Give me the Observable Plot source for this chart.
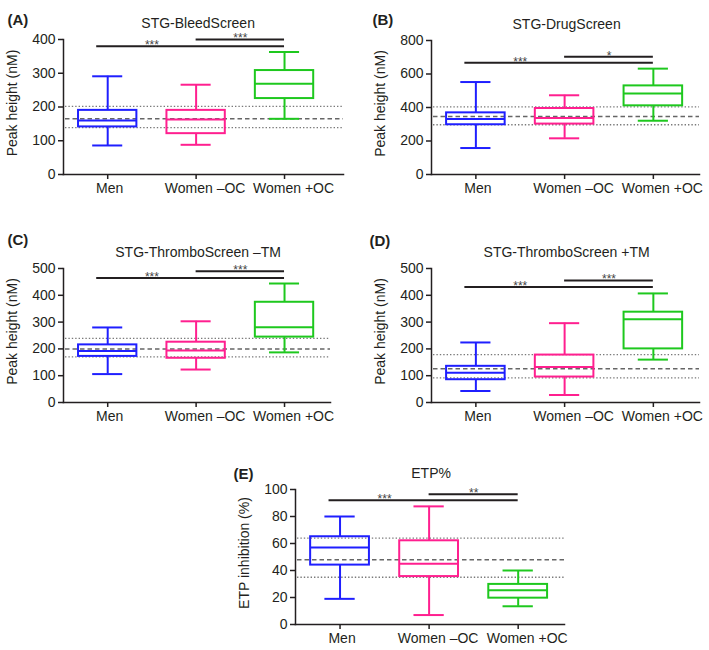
<!DOCTYPE html>
<html>
<head>
<meta charset="utf-8">
<script src="https://cdn.jsdelivr.net/npm/d3@7"></script>
<script src="https://cdn.jsdelivr.net/npm/@observablehq/plot@0.6"></script>
<style>
  body { margin: 0; background: #fff; }
  #chart { position: relative; width: 709px; height: 650px; font-family: "Liberation Sans", Arial, Helvetica, sans-serif; }
  #chart svg { position: absolute; overflow: visible; }
</style>
</head>
<body>
<div id="chart"></div>
<script>
// ---------- data ----------
const groups = ["Men", "Women –OC", "Women +OC"];
const groupColors = ["#1f1fff", "#ff1f8f", "#1ec81e"];

// (A) STG-BleedScreen
const aMin = [86, 88, 165];
const aQ1  = [141, 121, 225];
const aMed = [160, 163, 269];
const aQ3  = [190, 190, 308];
const aMax = [291, 266, 363];
const aRef = [139, 165, 202];      // low dotted, dashed, high dotted
const aSigY = [380, 400];          // long bar, short bar
const aStars = ["***", "***"];
const aTicks = [0, 100, 200, 300, 400];

// (B) STG-DrugScreen
const bMin = [158, 216, 321];
const bQ1  = [297, 301, 410];
const bMed = [331, 337, 483];
const bQ3  = [368, 394, 529];
const bMax = [552, 473, 632];
const bRef = [297, 347, 404];
const bSigY = [667, 703];
const bStars = ["***", "*"];
const bTicks = [0, 200, 400, 600, 800];

// (C) STG-ThromboScreen –TM
const cMin = [106, 123, 187];
const cQ1  = [172, 165, 244];
const cMed = [192, 194, 281];
const cQ3  = [215, 225, 374];
const cMax = [280, 303, 444];
const cRef = [170, 200, 239];
const cSigY = [465, 490];
const cStars = ["***", "***"];
const cTicks = [0, 100, 200, 300, 400, 500];

// (D) STG-ThromboScreen +TM
const dMin = [43, 28, 160];
const dQ1  = [85, 95, 200];
const dMed = [111, 132, 311];
const dQ3  = [135, 177, 337];
const dMax = [224, 296, 407];
const dRef = [92, 126, 179];
const dSigY = [431, 455];
const dStars = ["***", "***"];
const dTicks = [0, 100, 200, 300, 400, 500];

// (E) ETP%
const eMin = [19, 7, 13.5];
const eQ1  = [44, 35.5, 19.5];
const eMed = [57, 45, 25.3];
const eQ3  = [65, 62, 29.7];
const eMax = [80, 87.5, 40];
const eRef = [35, 48, 64];
const eSigY = [92, 96.5];
const eStars = ["***", "**"];
const eTicks = [0, 20, 40, 60, 80, 100];

// ---------- layout / style ----------
const INK = "#231f20";
const BOX = 0.33;   // half box width (in group units)
const CAP = 0.17;   // half cap width

const panels = [
  {tag: "(A)", title: "STG-BleedScreen", ylabel: "Peak height (nM)", min: aMin, q1: aQ1, med: aMed, q3: aQ3, max: aMax, ref: aRef, sigY: aSigY, stars: aStars, ticks: aTicks,
   left: 0, top: 0, width: 354, height: 205, mL: 63, mR: 11, mT: 39, mB: 31, xMax: 2.667, tagDx: -56, tagDy: -25},
  {tag: "(B)", title: "STG-DrugScreen", ylabel: "Peak height (nM)", min: bMin, q1: bQ1, med: bMed, q3: bQ3, max: bMax, ref: bRef, sigY: bSigY, stars: bStars, ticks: bTicks,
   left: 354, top: 0, width: 355, height: 205, mL: 77, mR: 10, mT: 40, mB: 31, xMax: 2.52, tagDx: -59, tagDy: -26},
  {tag: "(C)", title: "STG-ThromboScreen –TM", ylabel: "Peak height (nM)", min: cMin, q1: cQ1, med: cMed, q3: cQ3, max: cMax, ref: cRef, sigY: cSigY, stars: cStars, ticks: cTicks,
   left: 0, top: 200, width: 354, height: 225, mL: 63, mR: 24, mT: 68, mB: 23, xMax: 2.52, tagDx: -56, tagDy: -34},
  {tag: "(D)", title: "STG-ThromboScreen +TM", ylabel: "Peak height (nM)", min: dMin, q1: dQ1, med: dMed, q3: dQ3, max: dMax, ref: dRef, sigY: dSigY, stars: dStars, ticks: dTicks,
   left: 354, top: 200, width: 355, height: 225, mL: 77, mR: 10, mT: 68, mB: 23, xMax: 2.52, tagDx: -62, tagDy: -33},
  {tag: "(E)", title: "ETP%", ylabel: "ETP inhibition (%)", min: eMin, q1: eQ1, med: eMed, q3: eQ3, max: eMax, ref: eRef, sigY: eSigY, stars: eStars, ticks: eTicks,
   left: 170, top: 410, width: 420, height: 240, mL: 125, mR: 26, mT: 79, mB: 26, xMax: 2.52, tagDx: -62, tagDy: -21}
];

function makePanel(p) {
  const rows = groups.map((g, i) => ({
    i, g, color: groupColors[i],
    min: p.min[i], q1: p.q1[i], med: p.med[i], q3: p.q3[i], max: p.max[i]
  }));
  const sig = p.sigY.map((y, k) => ({
    from: k === 0 ? 0 : 1, to: 2, y, label: p.stars[k], mid: k === 0 ? 0.5 : 1.5
  }));
  const yTop = p.ticks[p.ticks.length - 1];
  const line = {stroke: "color", strokeWidth: 2};
  return Plot.plot({
    width: p.width,
    height: p.height,
    marginLeft: p.mL, marginRight: p.mR, marginTop: p.mT, marginBottom: p.mB,
    style: {fontFamily: "'Liberation Sans', Arial, Helvetica, sans-serif", fontSize: "14px", color: INK, background: "transparent", overflow: "visible"},
    x: {type: "linear", domain: [-0.5, p.xMax]},
    y: {domain: [0, yTop]},
    color: {type: "identity"},
    marks: [
      // reference range lines
      Plot.ruleY([p.ref[0], p.ref[2]], {stroke: "#7a7a7a", strokeWidth: 1.3, strokeDasharray: "1.4,2", insetLeft: 2}),
      Plot.ruleY([p.ref[1]], {stroke: "#666", strokeWidth: 1.5, strokeDasharray: "4.5,3", insetLeft: 2}),
      // whiskers
      Plot.ruleX(rows, {x: "i", y1: "min", y2: "q1", ...line}),
      Plot.ruleX(rows, {x: "i", y1: "q3", y2: "max", ...line}),
      Plot.ruleY(rows, {y: "min", x1: d => d.i - CAP, x2: d => d.i + CAP, ...line}),
      Plot.ruleY(rows, {y: "max", x1: d => d.i - CAP, x2: d => d.i + CAP, ...line}),
      // boxes and medians
      Plot.rect(rows, {x1: d => d.i - BOX, x2: d => d.i + BOX, y1: "q1", y2: "q3", fill: "none", ...line}),
      Plot.ruleY(rows, {y: "med", x1: d => d.i - BOX, x2: d => d.i + BOX, ...line}),
      // significance bars
      Plot.ruleY(sig.filter(s => s.from === 0), {y: "y", x1: "from", x2: "to", stroke: INK, strokeWidth: 2, insetLeft: -11}),
      Plot.ruleY(sig.filter(s => s.from !== 0), {y: "y", x1: "from", x2: "to", stroke: INK, strokeWidth: 2}),
      Plot.text(sig, {x: "mid", y: "y", text: "label", fontSize: 12, fill: "#444", dy: -1}),
      // axes
      Plot.frame({anchor: "left", stroke: INK, strokeWidth: 1.5}),
      Plot.frame({anchor: "bottom", stroke: INK, strokeWidth: 1.5}),
      Plot.axisY({ticks: p.ticks, tickSize: 5, tickPadding: 3, label: null, fontSize: 14, strokeWidth: 1.5}),
      Plot.axisX({ticks: [0, 1, 2], tickSize: 5, tickFormat: () => "", label: null, strokeWidth: 1.5}),
      Plot.text(rows.filter(r => r.i === 0), {x: "i", text: "g", frameAnchor: "bottom", dy: 18, dx: 2, fontSize: 14, fill: INK}),
      Plot.text(rows.filter(r => r.i > 0), {x: "i", text: "g", frameAnchor: "bottom", dy: 18, dx: 9, fontSize: 14, fill: INK}),
      // y label
      Plot.text([p.ylabel], {frameAnchor: "left", textAnchor: "middle", rotate: -90, dx: -51, dy: -4, fontSize: 14, fill: INK}),
      // title (centred over the middle group)
      Plot.text([{i: 1, t: p.title}], {x: "i", text: "t", frameAnchor: "top", dy: -21, dx: 2, fontSize: 14, fill: INK}),
      // panel tag
      Plot.text([p.tag], {frameAnchor: "top-left", dx: p.tagDx, dy: p.tagDy, textAnchor: "start", fontWeight: "bold", fontSize: 15, fill: INK})
    ]
  });
}

const chart = document.getElementById("chart");
for (const p of panels) {
  const svg = makePanel(p);
  svg.style.left = p.left + "px";
  svg.style.top = p.top + "px";
  chart.appendChild(svg);
}
</script>
</body>
</html>
